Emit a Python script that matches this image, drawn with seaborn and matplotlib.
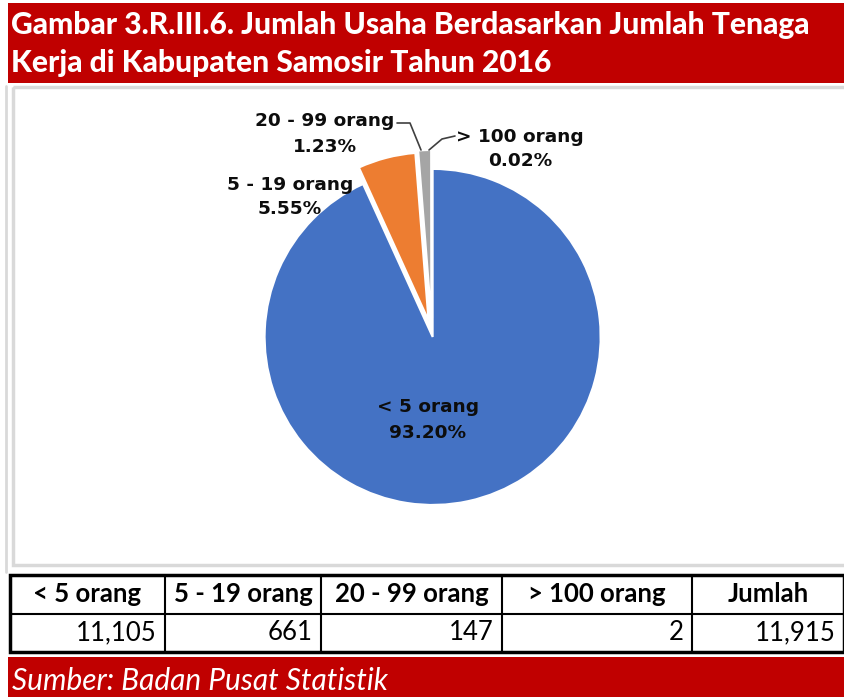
import matplotlib
matplotlib.use("Agg")
import matplotlib.pyplot as plt
import seaborn as sns
from matplotlib.patches import Rectangle

# Data
kategori = ["< 5 orang", "5 - 19 orang", "20 - 99 orang", "> 100 orang"]
jumlah_usaha = [11105, 661, 147, 2]
total_usaha = 11915
warna = ["#4472C4", "#ED7D31", "#A5A5A5", "#FFC000"]

judul = "Gambar 3.R.III.6. Jumlah Usaha Berdasarkan Jumlah Tenaga\nKerja di Kabupaten Samosir Tahun 2016"
sumber = "Sumber: Badan Pusat Statistik"

sns.set_theme(style="white")
plt.rcParams['font.family'] = ['Lato', 'DejaVu Sans']

fig = plt.figure(figsize=(8.44, 6.97), dpi=100)
ax = fig.add_axes([0, 0, 1, 1])

# Pie (y-Achse invertiert -> startangle 270, counterclock=True = im Uhrzeigersinn)
ax.pie(jumlah_usaha, colors=sns.color_palette(warna), startangle=270, counterclock=True,
       center=(432, 334), radius=168, explode=[3, 14, 16, 16],
       wedgeprops=dict(edgecolor="white", linewidth=1.5))
ax.set_xlim(0, 844)
ax.set_ylim(697, 0)
ax.axis("off")

persen = [v / total_usaha * 100 for v in jumlah_usaha]
label_font = dict(family="DejaVu Sans", fontweight="bold", fontsize=13.3, color="#0D0D0D",
                  ha="center", va="center", linespacing=1.5)
pos_label = [(428, 420), (290, 197), (325, 134), (520, 149)]
for k, p, (lx, ly) in zip(kategori, persen, pos_label):
    ax.text(lx, ly, f"{k}\n{p:.2f}%", **label_font)

# Leader lines
ax.plot([397, 410, 421], [123, 123, 150], color="#404040", lw=1.2)
ax.plot([455, 442, 429], [136, 139, 150], color="#404040", lw=1.2)

# Chart area border (Excel gridlines)
ax.add_patch(Rectangle((13, 87), 834, 478, fill=False, edgecolor="#D9D9D9", lw=2.5))
ax.plot([6, 6], [86, 572], color="#D9D9D9", lw=2)

# Title band
ax.add_patch(Rectangle((8, 3), 836, 80, facecolor="#C00000", edgecolor="none"))
ax.text(11, 44, judul, color="white", fontsize=21.6, fontweight="black",
        ha="left", va="center", linespacing=1.42)

# Table
col_x = [10, 165, 321, 502, 692, 844]
row_y = [575, 614, 652]
kolom = kategori + ["Jumlah"]
nilai = [f"{v:,}" for v in jumlah_usaha] + [f"{total_usaha:,}"]
ax.add_patch(Rectangle((col_x[0], row_y[0]), col_x[-1] - col_x[0], row_y[-1] - row_y[0],
                       fill=False, edgecolor="black", lw=2.5))
ax.plot([col_x[0], col_x[-1]], [row_y[1], row_y[1]], color="black", lw=1.5)
for x in col_x[1:-1]:
    ax.plot([x, x], [row_y[0], row_y[-1]], color="black", lw=1.5)
for i in range(len(kolom)):
    ax.text((col_x[i] + col_x[i + 1]) / 2, (row_y[0] + row_y[1]) / 2, kolom[i],
            fontsize=18.5, fontweight="bold", ha="center", va="center", color="black")
    ax.text(col_x[i + 1] - 8, (row_y[1] + row_y[2]) / 2, nilai[i],
            fontsize=18.5, ha="right", va="center", color="black")

# Footer band
ax.add_patch(Rectangle((8, 657), 836, 40, facecolor="#C00000", edgecolor="none"))
ax.text(12, 681, sumber, color="white", fontsize=21.5, fontstyle="italic",
        ha="left", va="center")

fig.savefig("out.png", dpi=100)
